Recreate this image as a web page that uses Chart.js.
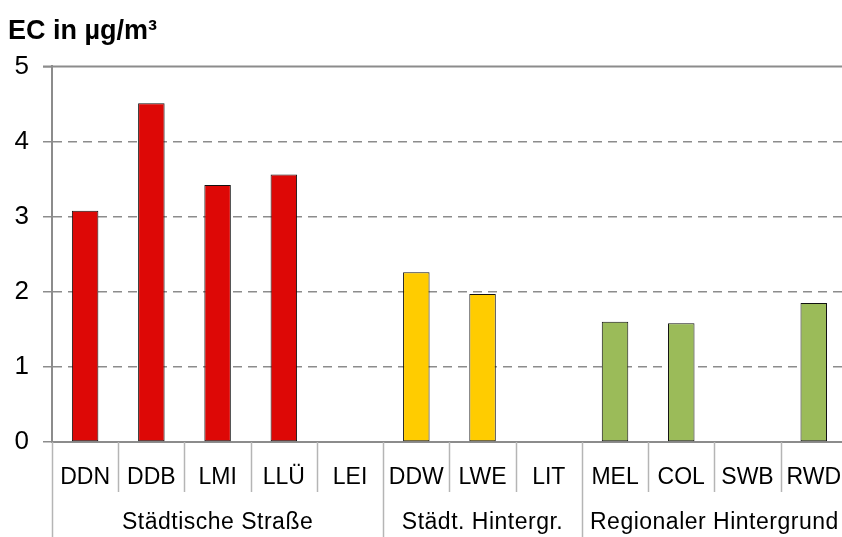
<!DOCTYPE html>
<html>
<head>
<meta charset="utf-8">
<script src="https://cdn.jsdelivr.net/npm/chart.js@4.4.0/dist/chart.umd.min.js"></script>
<style>
  html, body { margin: 0; padding: 0; background: #fff; overflow: hidden; }
</style>
</head>
<body>
<canvas id="chart" width="855" height="537"></canvas>
<script>
// Messstationen und EC-Werte (null = kein Wert)
const categories = ['DDN', 'DDB', 'LMI', 'LLÜ', 'LEI', 'DDW', 'LWE', 'LIT', 'MEL', 'COL', 'SWB', 'RWD'];
const ecValues = [3.08, 4.51, 3.42, 3.56, null, 2.26, 1.97, null, 1.60, 1.58, null, 1.85];
const groups = ['Städtische Straße', 'Städt. Hintergr.', 'Regionaler Hintergrund'];
const groupSizes = [5, 3, 4];
const groupColors = ['#DD0806', '#FFCC00', '#9BBB59'];
const yTicks = [0, 1, 2, 3, 4, 5];

const FONT = "'Liberation Sans', Arial, sans-serif";

// Farbe je Balken aus der Gruppe
const barColors = [];
groupSizes.forEach((n, g) => { for (let i = 0; i < n; i++) barColors.push(groupColors[g]); });

// Gruppen-Trennlinien, Gruppenbeschriftung und obere Linie
const groupPlugin = {
    id: 'groupPlugin',
    afterDraw(chart) {
        const ctx = chart.ctx;
        const x = chart.scales.x;
        const area = chart.chartArea;
        const bottom = chart.height;

        ctx.save();
        // obere Rahmenlinie bei 5
        ctx.strokeStyle = '#8c8c8c';
        ctx.lineWidth = 2;
        ctx.beginPath();
        ctx.moveTo(area.left - 9, area.top);
        ctx.lineTo(area.right, area.top);
        ctx.stroke();

        // Trennlinien zwischen Kategorien
        const starts = [0];
        groupSizes.forEach((n, g) => starts.push(starts[g] + n));
        ctx.strokeStyle = '#b5b5b5';
        ctx.lineWidth = 1.5;
        for (let i = 0; i <= categories.length; i++) {
            const px = Math.round(x.getPixelForValue(i - 0.5)) + 0.5;
            const isGroup = starts.includes(i);
            ctx.beginPath();
            ctx.moveTo(px, area.bottom);
            ctx.lineTo(px, isGroup ? bottom : area.bottom + 50);
            ctx.stroke();
        }

        // Gruppennamen
        ctx.fillStyle = '#000';
        ctx.font = '23px ' + FONT;
        ctx.letterSpacing = '0.5px';
        ctx.textAlign = 'center';
        ctx.textBaseline = 'middle';
        groups.forEach((name, g) => {
            const x1 = x.getPixelForValue(starts[g] - 0.5);
            const x2 = x.getPixelForValue(starts[g + 1] - 0.5);
            ctx.fillText(name, (x1 + x2) / 2, 523);
        });
        ctx.restore();
    }
};

const ctx = document.getElementById('chart').getContext('2d');
new Chart(ctx, {
    type: 'bar',
    data: {
        labels: categories,
        datasets: [{
            label: 'EC',
            data: ecValues,
            backgroundColor: barColors,
            borderColor: '#111',
            borderWidth: 1,
            borderSkipped: false,
            barPercentage: 0.4,
            categoryPercentage: 1.0
        }]
    },
    options: {
        responsive: false,
        animation: false,
        layout: { padding: { left: 8, right: 0, top: 0, bottom: 0 } },
        plugins: {
            legend: { display: false },
            tooltip: { enabled: false },
            title: {
                display: true,
                text: 'EC in µg/m³',
                align: 'start',
                color: '#000',
                font: { family: FONT, size: 27, weight: 'bold' },
                padding: { top: 15, bottom: 19 }
            }
        },
        scales: {
            x: {
                offset: true,
                grid: { display: false },
                border: { display: true, color: '#8c8c8c', width: 2 },
                ticks: {
                    color: '#000',
                    font: { family: FONT, size: 23 },
                    padding: 14,
                    maxRotation: 0,
                    autoSkip: false
                },
                afterFit: (scale) => { scale.height = 95; }
            },
            y: {
                min: 0,
                max: 5,
                afterBuildTicks: (scale) => { scale.ticks = yTicks.map(v => ({ value: v })); },
                grid: {
                    color: (c) => (c.tick && c.tick.value > 0 && c.tick.value < 5) ? '#8c8c8c' : 'rgba(0,0,0,0)',
                    tickColor: '#8c8c8c',
                    tickLength: 9,
                    lineWidth: 1.5
                },
                border: { display: true, color: '#8c8c8c', width: 2, dash: [9, 6] },
                ticks: {
                    color: '#000',
                    font: { family: FONT, size: 26 },
                    padding: 14
                },
                afterFit: (scale) => { scale.width = 44; }
            }
        }
    },
    plugins: [groupPlugin]
});
</script>
</body>
</html>
